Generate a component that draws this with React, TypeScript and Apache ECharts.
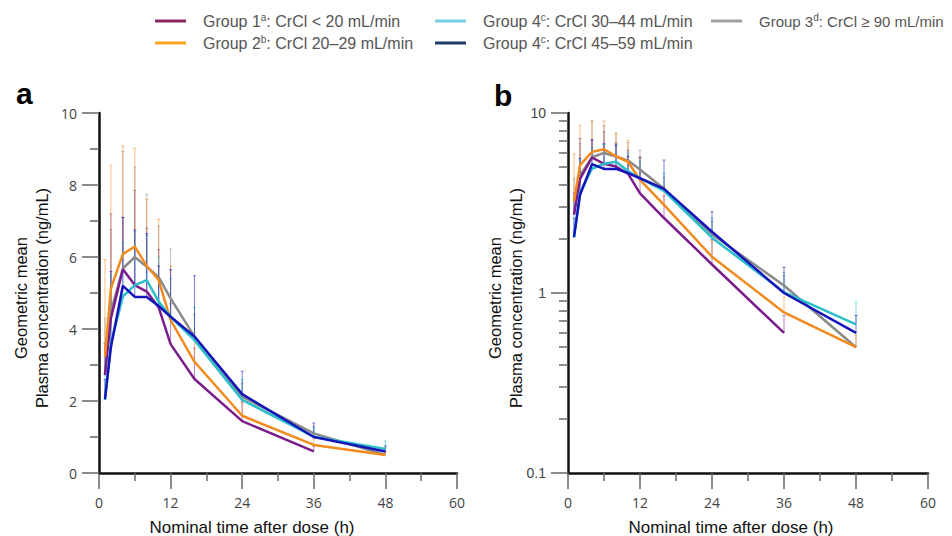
import React, { useEffect, useRef } from "react";
import * as echarts from "echarts";

const times = [1, 2, 4, 6, 8, 10, 12, 16, 24, 36, 48];

const groupNames = [
  "Group 1{sup|a}: CrCl < 20 mL/min",
  "Group 2{sup|b}: CrCl 20–29 mL/min",
  "Group 4{sup|c}: CrCl 30–44 mL/min",
  "Group 4{sup|c}: CrCl 45–59 mL/min",
  "Group 3{sup|d}: CrCl ≥ 90 mL/min",
];
const seriesKeys = ["g1", "g2", "g4a", "g4b", "g3"];

const g1Mean = [2.72, 4.3, 5.66, 5.22, 5.04, 4.6, 3.58, 2.61, 1.44, 0.6];
const g2Mean = [3.23, 5.13, 6.08, 6.29, 5.75, 5.36, 4.25, 3.09, 1.59, 0.78, 0.5];
const g4aMean = [2.03, 3.6, 4.9, 5.22, 5.36, 4.76, 4.34, 3.69, 2.03, 1.01, 0.67];
const g4bMean = [2.05, 3.5, 5.2, 4.89, 4.89, 4.64, 4.34, 3.79, 2.19, 1.0, 0.6];
const g3Mean = [2.75, 4.5, 5.68, 6.0, 5.73, 5.44, 4.85, 3.79, 2.12, 1.1, 0.5];

const g1Upper = [3.6, 7.2, 7.1, 7.85, 6.8, 6.2, 4.7, 3.47, 1.98, 0.75];
const g2Upper = [5.93, 8.55, 9.08, 9.02, 7.6, 7.05, 5.75, 3.9, 1.95, 0.95, 0.58];
const g4aUpper = [3.3, 5.5, 6.4, 6.7, 6.6, 6.0, 5.4, 4.6, 2.6, 1.25, 0.89];
const g4bUpper = [2.6, 5.6, 7.1, 6.75, 6.65, 5.75, 5.65, 5.48, 2.83, 1.39, 0.75];
const g3Upper = [4.3, 6.76, 8.93, 8.5, 7.74, 6.85, 6.22, 4.4, 2.5, 1.3, 0.6];

const xTickLabels = [0, 12, 24, 36, 48, 60];
const linTicks = [0, 2, 4, 6, 8, 10];
const logMajor = [0.1, 1, 10];
const logMinor = [0.2, 0.3, 0.4, 0.5, 0.6, 0.7, 0.8, 0.9, 2, 3, 4, 5, 6, 7, 8, 9];

const means = [g1Mean, g2Mean, g4aMean, g4bMean, g3Mean];
const uppers = [g1Upper, g2Upper, g4aUpper, g4bUpper, g3Upper];
const lineColors = ["#7a1d8c", "#f28a1e", "#2cbfca", "#1414b8", "#8a8a8a"];
const legendColors = ["#8b2460", "#f6a623", "#74cfe0", "#1f3a68", "#a0a0a0"];
const drawOrder = [4, 0, 1, 2, 3];

const SANS = "Liberation Sans, Arial, sans-serif";

export default function App() {
  const ref = useRef<HTMLDivElement>(null);
  useEffect(() => {
    if (!ref.current) return;
    const chart = echarts.init(ref.current, null, { renderer: "svg" });
    const series: any[] = [];
    [0, 1].forEach((gi) => {
      drawOrder.forEach((i) => {
        const errData = means[i].map((m, k) => [times[k], m, uppers[i][k]]);
        series.push({
          type: "custom",
          name: "err-" + seriesKeys[i] + "-" + gi,
          xAxisIndex: gi,
          yAxisIndex: gi,
          z: 1,
          silent: true,
          encode: { x: 0, y: [1, 2] },
          data: errData,
          renderItem: (params: any, api: any) => {
            const p0 = api.coord([api.value(0), api.value(1)]);
            const p1 = api.coord([api.value(0), api.value(2)]);
            const st = { stroke: lineColors[i], lineWidth: 1, opacity: 0.55 };
            return {
              type: "group",
              children: [
                { type: "line", shape: { x1: p0[0], y1: p0[1], x2: p1[0], y2: p1[1] }, style: st },
                { type: "line", shape: { x1: p1[0] - 1.5, y1: p1[1], x2: p1[0] + 1.5, y2: p1[1] }, style: st },
              ],
            };
          },
        });
      });
      drawOrder.forEach((i) => {
        series.push({
          type: "line",
          name: groupNames[i],
          xAxisIndex: gi,
          yAxisIndex: gi,
          z: 3,
          showSymbol: false,
          symbol: "none",
          color: lineColors[i],
          lineStyle: { color: lineColors[i], width: 2.5 },
          data: means[i].map((m, k) => [times[k], m]),
        });
      });
    });

    const legendText = (fs: number) => ({
      color: "#555",
      fontSize: fs,
      fontFamily: SANS,
      lineHeight: 18,
      padding: [0, 0, 0, 12],
      rich: {
        sup: { fontSize: 10, verticalAlign: "top", lineHeight: 13, color: "#555", fontFamily: SANS },
      },
    });
    const mkLegend = (idx: number[], left: number, fs: number) => ({
      orient: "vertical",
      left,
      top: 12,
      padding: 0,
      itemGap: 4,
      itemWidth: 31,
      itemHeight: 3,
      selectedMode: false,
      textStyle: legendText(fs),
      data: idx.map((i) => ({ name: groupNames[i], icon: "rect", itemStyle: { color: legendColors[i] } })),
    });

    const xAxisCommon = (gi: number) => ({
      type: "value",
      gridIndex: gi,
      min: 0,
      max: 60,
      interval: 12,
      axisLine: { onZero: false, lineStyle: { color: "#111", width: 2.5 } },
      axisTick: { show: true, length: 16, lineStyle: { color: "#666", width: 1.5 } },
      minorTick: { show: true, splitNumber: 2, length: 8, lineStyle: { color: "#666", width: 1.5 } },
      axisLabel: {
        margin: 22,
        color: "#444",
        fontSize: 14,
        fontFamily: "Open Sans, sans-serif",
        customValues: xTickLabels,
      },
      splitLine: { show: false },
      minorSplitLine: { show: false },
    });

    const yTitle = (x: number) => ({
      type: "text",
      x,
      y: 298,
      rotation: Math.PI / 2,
      style: {
        text: "Geometric mean\nPlasma concentration (ng/mL)",
        fontSize: 16.5,
        lineHeight: 21,
        fill: "#111",
        align: "center",
        verticalAlign: "middle",
        fontFamily: SANS,
      },
    });
    const xTitle = (x: number) => ({
      type: "text",
      x,
      y: 527,
      style: { text: "Nominal time after dose (h)", fontSize: 17, fill: "#111", align: "center", verticalAlign: "middle", fontFamily: SANS },
    });

    const option: any = {
      animation: false,
      legend: [mkLegend([0, 1], 155, 16), mkLegend([2, 3], 435, 16), mkLegend([4], 711, 15)],
      grid: [
        { left: 99, top: 113, width: 358, height: 360 },
        { left: 568, top: 113, width: 360, height: 360 },
      ],
      xAxis: [xAxisCommon(0), xAxisCommon(1)],
      yAxis: [
        {
          type: "value",
          gridIndex: 0,
          min: 0,
          max: 10,
          interval: 2,
          axisLine: { show: true, onZero: false, lineStyle: { color: "#111", width: 2.5 } },
          axisTick: { show: true, length: 17, lineStyle: { color: "#666", width: 1.5 } },
          minorTick: { show: true, splitNumber: 2, length: 9, lineStyle: { color: "#666", width: 1.5 } },
          axisLabel: { margin: 22, color: "#444", fontSize: 14, fontFamily: "Open Sans, sans-serif", customValues: linTicks },
          splitLine: { show: false },
          minorSplitLine: { show: false },
        },
        {
          type: "log",
          logBase: 10,
          gridIndex: 1,
          min: 0.1,
          max: 10,
          axisLine: { show: true, onZero: false, lineStyle: { color: "#111", width: 2.5 } },
          axisTick: { show: true, length: 17, customValues: logMajor, lineStyle: { color: "#666", width: 1.5 } },
          axisLabel: {
            margin: 22,
            color: "#444",
            fontSize: 14,
            fontFamily: SANS,
            customValues: logMajor,
            formatter: (v: number) => String(v),
          },
          splitLine: { show: false },
        },
        {
          type: "log",
          logBase: 10,
          gridIndex: 1,
          min: 0.1,
          max: 10,
          position: "left",
          offset: 0,
          axisLine: { show: false },
          axisTick: { show: true, length: 9, customValues: logMinor, lineStyle: { color: "#666", width: 1.5 } },
          axisLabel: { show: false },
          splitLine: { show: false },
        },
      ],
      graphic: [
        { type: "text", left: 16, top: 78, style: { text: "a", fontSize: 30, fontWeight: "bold", fill: "#000", fontFamily: SANS } },
        { type: "text", left: 494, top: 80, style: { text: "b", fontSize: 30, fontWeight: "bold", fill: "#000", fontFamily: SANS } },
        yTitle(31),
        yTitle(505),
        xTitle(252),
        xTitle(731),
      ],
      series,
    };
    chart.setOption(option);
    return () => chart.dispose();
  }, []);
  return <div ref={ref} style={{ position: "absolute", left: 0, top: 0, width: 952, height: 536, background: "#fff" }} />;
}
